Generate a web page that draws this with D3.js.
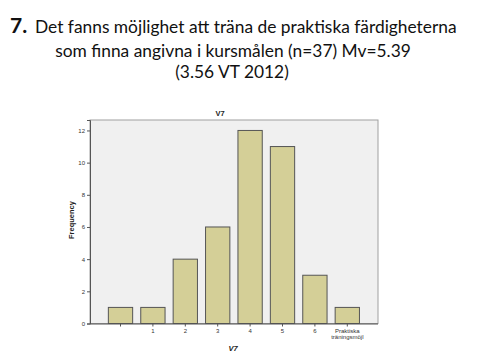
<!DOCTYPE html>
<html><head><meta charset="utf-8">
<script src="https://cdn.jsdelivr.net/npm/d3@7"></script>
<style>body{margin:0;background:#fff;}svg{display:block;}</style>
</head><body>
<svg id="c" width="480" height="360"></svg>
<script>
const categories = ["", "1", "2", "3", "4", "5", "6", "Praktiska träningsmöjl"];
const frequencies = [1, 1, 4, 6, 12, 11, 3, 1];
const yTicks = [0, 2, 4, 6, 8, 10, 12];
const titleLines = ["Det fanns möjlighet att träna de praktiska färdigheterna", "som finna angivna i kursmålen (n=37) Mv=5.39", "(3.56 VT 2012)"];

const svg = d3.select("#c");
const plot = {left: 90, right: 378, top: 120, bottom: 323.5};

// Heading
const hf = "Lato, 'Open Sans', sans-serif";
svg.append("text").attr("x", 10).attr("y", 33).attr("font-family", hf).attr("font-weight", "bold")
  .attr("font-size", 21).attr("fill", "#111").text("7.");
const l1 = svg.append("text").attr("x", 35).attr("y", 33).attr("font-family", hf).attr("font-size", 16).attr("fill", "#111").text(titleLines[0]);
const w1 = l1.node().getComputedTextLength();
const fs = 16 * 422 / w1;
l1.attr("font-size", fs);
svg.append("text").attr("x", 233).attr("y", 56.5).attr("text-anchor", "middle").attr("font-family", hf).attr("font-size", fs).attr("fill", "#111").text(titleLines[1]);
svg.append("text").attr("x", 232).attr("y", 78).attr("text-anchor", "middle").attr("font-family", hf).attr("font-size", fs).attr("fill", "#111").text(titleLines[2]);

// Plot background
svg.append("rect").attr("x", plot.left).attr("y", plot.top).attr("width", plot.right - plot.left)
  .attr("height", plot.bottom - plot.top).attr("fill", "#f0f0f0").attr("stroke", "#a0a0a0").attr("stroke-width", 1);

const x = d3.scaleBand().domain(categories).range([104.3, 363.5]).paddingInner(0.25).paddingOuter(0.125);
const y = d3.scaleLinear().domain([0, 12.65]).range([plot.bottom, plot.top]);

svg.append("g").selectAll("rect").data(frequencies).join("rect")
  .attr("x", (d, i) => x(categories[i]))
  .attr("y", d => y(d))
  .attr("width", x.bandwidth())
  .attr("height", d => y(0) - y(d))
  .attr("fill", "#d4cf97").attr("stroke", "#555").attr("stroke-width", 1);

// Y axis
const ya = svg.append("g").attr("transform", `translate(${plot.left},0)`)
  .call(d3.axisLeft(y).tickValues(yTicks).tickSize(3).tickPadding(2));
ya.select(".domain").attr("stroke", "#555");
ya.selectAll(".tick line").attr("stroke", "#555");
ya.selectAll("text").attr("font-family", "Arial, 'Liberation Sans', sans-serif").attr("font-size", 6).attr("fill", "#333");

// X axis
const xa = svg.append("g").attr("transform", `translate(0,${plot.bottom})`)
  .call(d3.axisBottom(x).tickSize(3).tickPadding(2).tickSizeOuter(0));
xa.select(".domain").attr("d", `M${plot.left},0.5H${plot.right}`).attr("stroke", "#555");
xa.selectAll(".tick line").attr("stroke", "#555");
xa.selectAll("text").attr("font-family", "Arial, 'Liberation Sans', sans-serif").attr("font-size", 6).attr("fill", "#333")
  .each(function(d) {
    const parts = d.split(" ");
    if (parts.length > 1) {
      const t = d3.select(this).text(null);
      parts.forEach((p, i) => t.append("tspan").attr("x", 0).attr("dy", i === 0 ? "0.71em" : "1em").text(p));
    }
  });

// Titles
svg.append("text").attr("x", 220).attr("y", 116).attr("text-anchor", "middle")
  .attr("font-family", "Arial, 'Liberation Sans', sans-serif").attr("font-weight", "bold").attr("font-size", 7.5).attr("fill", "#222").text("V7");
svg.append("text").attr("transform", "translate(74,220) rotate(-90)").attr("text-anchor", "middle")
  .attr("font-family", "Arial, 'Liberation Sans', sans-serif").attr("font-weight", "bold").attr("font-size", 7.5).attr("fill", "#222").text("Frequency");
svg.append("text").attr("x", 233).attr("y", 351).attr("text-anchor", "middle")
  .attr("font-family", "Arial, 'Liberation Sans', sans-serif").attr("font-weight", "bold").attr("font-style", "italic").attr("font-size", 7.5).attr("fill", "#222").text("V7");
</script>
</body></html>
